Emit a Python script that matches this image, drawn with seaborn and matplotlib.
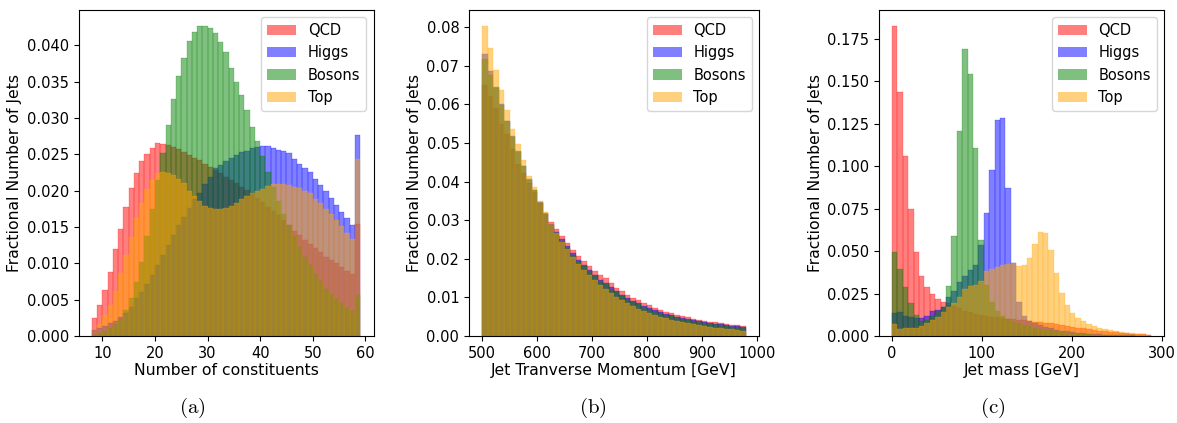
import numpy as np
import pandas as pd
import matplotlib
matplotlib.use("Agg")
import matplotlib.pyplot as plt
import seaborn as sns

# ---------------- data ----------------
labels = ["QCD", "Higgs", "Bosons", "Top"]
colors = ["red", "blue", "green", "orange"]

# (a) number of constituents: bins 8..59 (width 1)
const_edges = list(range(8, 60))
const_qcd = [.0025, .0042, .0063, .0088, .0119, .0147, .0178, .0203, .0224, .0240, .0250, .0258, .0265,
             .0264, .0263, .0260, .0257, .0253, .0249, .0245, .0242, .0237, .0233,
             .0228, .0224, .0219, .0215, .0210, .0205, .0201, .0196, .0190, .0184,
             .0178, .0172, .0166, .0160, .0153, .0145, .0139, .0132, .0126, .0121,
             .0116, .0109, .0105, .0101, .0095, .0090, .0085, .0154]
const_higgs = [.0008, .0011, .0014, .0018, .0021, .0026, .0032, .0040, .0052, .0060, .0072, .0084, .0098,
               .0112, .0125, .0139, .0152, .0163, .0176, .0189, .0197, .0209, .0219,
               .0231, .0235, .0240, .0245, .0249, .0253, .0255, .0258, .0260, .0261,
               .0261, .0259, .0256, .0255, .0251, .0244, .0237, .0231, .0225, .0216,
               .0208, .0199, .0190, .0180, .0171, .0162, .0152, .0277]
const_bosons = [.0002, .0004, .0007, .0011, .0016, .0024, .0036, .0052, .0074, .0102, .0137, .0174, .0215,
                .0252, .0290, .0326, .0357, .0383, .0406, .0418, .0427, .0426, .0424,
                .0417, .0405, .0390, .0369, .0350, .0332, .0311, .0287, .0268, .0247,
                .0226, .0205, .0185, .0168, .0152, .0137, .0122, .0108, .0097, .0085,
                .0075, .0065, .0058, .0051, .0045, .0039, .0034, .0056]
const_top = [.0009, .0017, .0029, .0043, .0062, .0086, .0111, .0136, .0162, .0183, .0202, .0215, .0224,
             .0226, .0224, .0222, .0216, .0210, .0200, .0193, .0185, .0179, .0176,
             .0175, .0175, .0176, .0179, .0183, .0188, .0192, .0196, .0200, .0202,
             .0206, .0209, .0209, .0209, .0208, .0205, .0203, .0200, .0196, .0188,
             .0183, .0175, .0168, .0160, .0151, .0141, .0134, .0243]

# (b) jet transverse momentum: bins 500..980 (width 10)
pt_edges = list(range(500, 990, 10))
pt_qcd = [.0651, .0621, .0591, .0550, .0522, .0483, .0446, .0422, .0396, .0372, .0345, .0318,
          .0296, .0277, .0259, .0241, .0223, .0208, .0195, .0182, .0169, .0158, .0150, .0137,
          .0125, .0116, .0107, .0099, .0092, .0085, .0079, .0073, .0068, .0063, .0059, .0055,
          .0051, .0048, .0045, .0042, .0040, .0037, .0035, .0033, .0031, .0029, .0028, .0026]
pt_higgs = [.0730, .0685, .0645, .0600, .0558, .0517, .0478, .0441, .0407, .0378, .0346, .0316,
            .0290, .0270, .0250, .0232, .0214, .0198, .0184, .0171, .0158, .0146, .0138, .0126,
            .0116, .0107, .0099, .0091, .0085, .0078, .0072, .0067, .0062, .0058, .0054, .0050,
            .0047, .0044, .0041, .0038, .0036, .0034, .0032, .0030, .0028, .0026, .0025, .0023]
pt_bosons = [.0718, .0675, .0641, .0599, .0556, .0515, .0476, .0439, .0405, .0377, .0345, .0315,
             .0288, .0267, .0247, .0229, .0211, .0195, .0181, .0168, .0155, .0143, .0135, .0123,
             .0113, .0104, .0096, .0088, .0082, .0075, .0069, .0064, .0059, .0055, .0051, .0048,
             .0045, .0042, .0039, .0036, .0034, .0032, .0030, .0028, .0026, .0024, .0023, .0021]
pt_top = [.0804, .0747, .0690, .0636, .0586, .0537, .0496, .0457, .0415, .0385, .0350, .0320,
          .0292, .0266, .0244, .0224, .0204, .0187, .0172, .0158, .0145, .0133, .0123, .0112,
          .0102, .0093, .0085, .0077, .0071, .0065, .0059, .0054, .0050, .0046, .0042, .0039,
          .0036, .0033, .0031, .0028, .0026, .0024, .0022, .0020, .0019, .0017, .0016, .0014]

# (c) jet mass: bins 0..288 (width 6)
mass_edges = list(range(0, 294, 6))
mass_qcd = [.1829, .1439, .1058, .0749, .0495, .0354, .0287, .0246, .0218, .0203, .0192, .0178,
            .0163, .0150, .0140, .0131, .0124, .0118, .0113, .0110, .0106, .0102, .0098, .0095,
            .0092, .0088, .0085, .0081, .0078, .0075, .0071, .0066, .0060, .0055, .0050, .0045,
            .0041, .0036, .0032, .0028, .0025, .0022, .0019, .0016, .0014, .0012, .0010, .0008]
mass_higgs = [.0134, .0144, .0118, .0114, .0104, .0104, .0118, .0147, .0153, .0173, .0232, .0265,
              .0320, .0355, .0390, .0420, .0537, .0724, .0979, .1274, .1286, .0873, .0429, .0200,
              .0120, .0090, .0075, .0062, .0052, .0045, .0038, .0032, .0027, .0023, .0019, .0016,
              .0013, .0011, .0009, .0008, .0006, .0005, .0004, .0003, .0003, .0002, .0002, .0001]
mass_bosons = [.0497, .0395, .0287, .0193, .0125, .0090, .0094, .0120, .0145, .0172, .0295, .0590,
               .1209, .1693, .1545, .1109, .0566, .0300, .0200, .0150, .0120, .0100, .0085, .0075,
               .0065, .0058, .0050, .0044, .0038, .0033, .0028, .0024, .0020, .0017, .0014, .0012,
               .0010, .0008, .0007, .0006, .0005, .0004, .0004, .0003, .0003, .0002, .0002, .0002]
mass_top = [.0071, .0041, .0045, .0045, .0049, .0059, .0075, .0094, .0114, .0140, .0173, .0193,
            .0232, .0276, .0295, .0300, .0324, .0385, .0393, .0409, .0419, .0425, .0428, .0415,
            .0419, .0458, .0543, .0614, .0606, .0507, .0374, .0252, .0183, .0134, .0104, .0087,
            .0071, .0058, .0048, .0040, .0033, .0028, .0023, .0019, .0015, .0012, .0010, .0008]

xlabels = ["Number of constituents", "Jet Tranverse Momentum [GeV]", "Jet mass [GeV]"]
ylabel = "Fractional Number of Jets"
captions = ["(a)", "(b)", "(c)"]

panels = [
    (const_edges, [const_qcd, const_higgs, const_bosons, const_top]),
    (pt_edges, [pt_qcd, pt_higgs, pt_bosons, pt_top]),
    (mass_edges, [mass_qcd, mass_higgs, mass_bosons, mass_top]),
]

# ---------------- figure ----------------
FS_TICK = 10.5
FS_LABEL = 11.25
fig = plt.figure(figsize=(11.77, 4.23), dpi=100)
ax_boxes = [
    [78.5 / 1177, 87 / 423, 295 / 1177, 326 / 423],
    [469 / 1177, 87 / 423, 290 / 1177, 326 / 423],
    [879 / 1177, 87 / 423, 285 / 1177, 326 / 423],
]
caption_x = [192 / 1177, 593 / 1177, 993 / 1177]

for i, (edges, series) in enumerate(panels):
    ax = fig.add_axes(ax_boxes[i])
    e = np.asarray(edges, dtype=float)
    centers = (e[:-1] + e[1:]) / 2.0
    for vals, lab, col in zip(series, labels, colors):
        df = pd.DataFrame({"x": centers, "w": np.asarray(vals, dtype=float)})
        sns.histplot(data=df, x="x", weights="w", bins=list(edges), stat="count",
                     color=col, alpha=0.5, label=lab, ax=ax,
                     linewidth=0.15, edgecolor=col)
    ax.set_xlabel(xlabels[i], fontsize=FS_LABEL, labelpad=1.5)
    ax.set_ylabel(ylabel, fontsize=FS_LABEL, labelpad=3)
    ax.tick_params(labelsize=FS_TICK)
    leg = ax.legend(loc="upper right", fontsize=FS_TICK)
    for h in leg.legend_handles:
        h.set_linewidth(0)
    fig.text(caption_x[i], 0.035, r"$\mathrm{" + captions[i] + "}$",
             ha="center", va="center", fontsize=15, math_fontfamily="cm")

fig.savefig("out.png", dpi=100)
